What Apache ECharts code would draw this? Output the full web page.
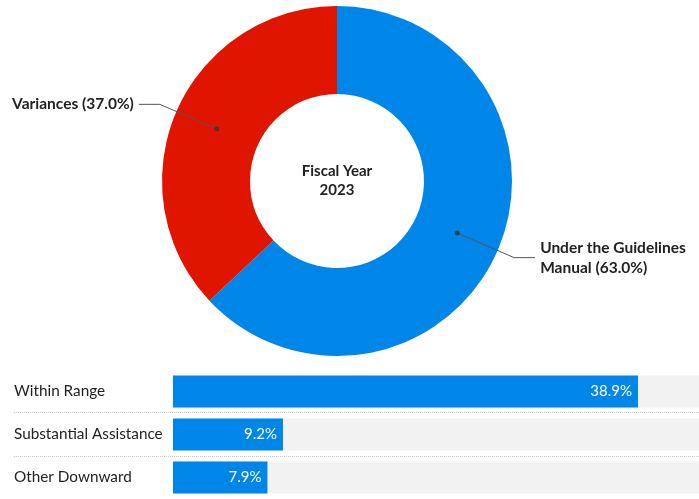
<!DOCTYPE html>
<html><head><meta charset="utf-8">
<script src="https://cdn.jsdelivr.net/npm/echarts@6/dist/echarts.min.js"></script>
<style>html,body{margin:0;padding:0;background:#fff}#c{width:699px;height:499px}</style>
</head><body><div id="c"></div>
<script>
const donutNames = ['Under the Guidelines Manual', 'Variances'];
const donutLabels = ['Under the Guidelines\nManual', 'Variances'];
const donutValues = [63.0, 37.0];
const donutColors = ['#0086e8', '#e01500'];
const centerTitle = 'Fiscal Year\n2023';

const barCategories = ['Within Range', 'Substantial Assistance', 'Other Downward'];
const barValues = [38.9, 9.2, 7.9];
const barMax = 44;

const FONT = 'Lato, "Noto Sans", sans-serif';
const CX = 337, CY = 181, R_OUT = 175, R_IN = 87;
const R_MID = (R_OUT + R_IN) / 2;

const total = donutValues.reduce((a, b) => a + b, 0);
let acc = 0;
const midAngles = donutValues.map(v => { const m = (acc + v / 2) / total * 360; acc += v; return m; });

const chart = echarts.init(document.getElementById('c'), null, {renderer: 'canvas'});
chart.setOption({
  animation: false,
  polar: {center: [CX, CY], radius: R_OUT},
  angleAxis: {show: false, min: 0, max: 360, startAngle: 90, clockwise: true, type: 'value'},
  radiusAxis: {show: false, min: 0, max: R_OUT, type: 'value'},
  grid: [
    {left: 14, top: 369.5, width: 687, height: 132},
    {left: 173, top: 370, width: 528, height: 132}
  ],
  xAxis: [
    {gridIndex: 0, type: 'value', show: false, min: 0, max: 1},
    {gridIndex: 1, type: 'value', show: false, min: 0, max: barMax}
  ],
  yAxis: [
    {gridIndex: 0, type: 'category', inverse: true, data: barCategories,
     axisLine: {show: false}, axisTick: {show: false},
     axisLabel: {inside: true, margin: 0, color: '#222', fontSize: 15.3, fontFamily: FONT},
     splitLine: {show: true, interval: (i) => i > 0, lineStyle: {type: [1, 1], color: '#c8c8c8', width: 1}}},
    {gridIndex: 1, type: 'category', inverse: true, data: barCategories, show: false}
  ],
  graphic: [{
    type: 'text', x: CX, y: CY, silent: true,
    style: {text: centerTitle, align: 'center', verticalAlign: 'middle',
      font: 'bold 15px ' + FONT, fill: '#222', lineHeight: 19}
  }],
  series: [
    {
      type: 'pie', center: [CX, CY], radius: [R_IN, R_OUT], silent: true,
      startAngle: 90, clockwise: true,
      label: {show: false}, labelLine: {show: false},
      data: donutNames.map((n, i) => ({name: n, value: donutValues[i], itemStyle: {color: donutColors[i]}}))
    },
    {
      type: 'pie', center: [CX, CY], radius: [0, R_MID], silent: true, z: 5,
      startAngle: 90, clockwise: true,
      itemStyle: {color: 'rgba(0,0,0,0)'},
      label: {show: true, position: 'outside', color: '#222', fontSize: 15.5, fontWeight: 'bold',
        fontFamily: FONT, lineHeight: 20, distanceToLabelLine: 5,
        formatter: (p) => donutLabels[p.dataIndex] + ' (' + p.value.toFixed(1) + '%)'},
      labelLine: {show: true, length: 62, length2: 21, lineStyle: {color: '#555', width: 1}},
      data: donutNames.map((n, i) => ({name: n, value: donutValues[i],
        label: i === 0 ? {padding: [20, 0, 0, 0]} : {}}))
    },
    {
      type: 'scatter', coordinateSystem: 'polar', silent: true, z: 6,
      symbolSize: 5, itemStyle: {color: '#333'},
      data: midAngles.map(a => [R_MID, a])
    },
    {
      type: 'bar', xAxisIndex: 1, yAxisIndex: 1, barWidth: 32, silent: true,
      showBackground: true, backgroundStyle: {color: '#f2f2f2'},
      itemStyle: {color: '#0086e8'},
      label: {show: true, position: 'insideRight', distance: 6, color: '#fff', fontSize: 15,
        fontFamily: FONT, formatter: (p) => p.value.toFixed(1) + '%'},
      data: barValues
    }
  ]
});
</script></body></html>
